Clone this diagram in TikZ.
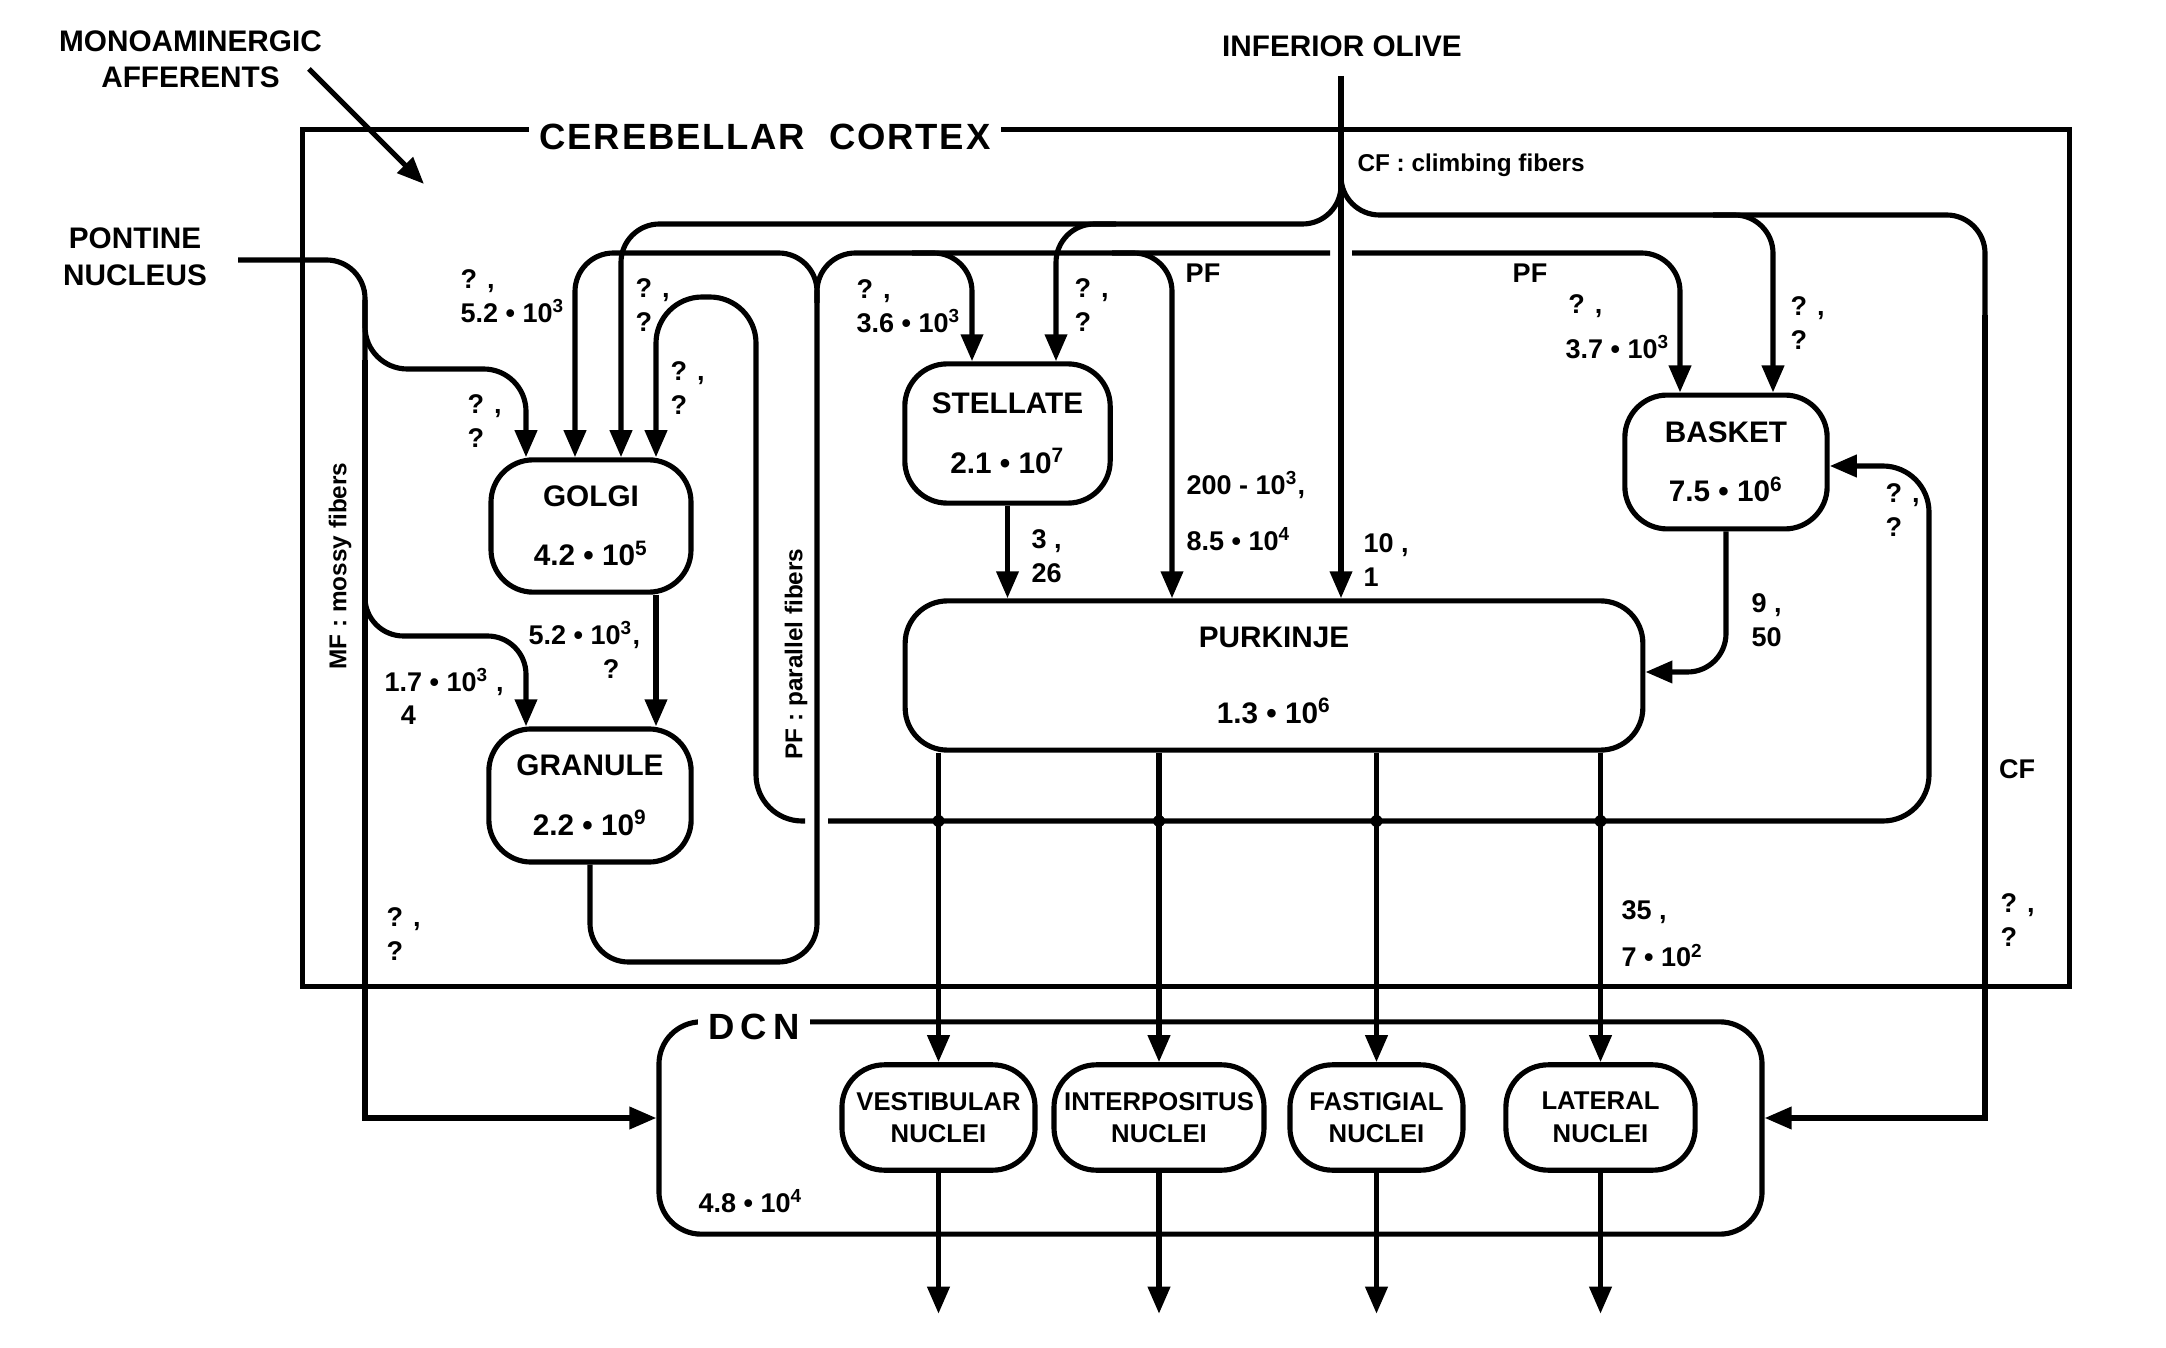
\documentclass[tikz,border=0pt]{standalone}
\usepackage{fontspec}
\setmainfont{Liberation Sans}
\newfontfamily\spaced{Liberation Sans}[LetterSpace=5]
\usepackage{tikz}
\usetikzlibrary{calc}
\usetikzlibrary{arrows.meta}
\newcommand{\tp}[1]{10\textsuperscript{#1}}

\begin{document}
\begin{tikzpicture}[x=1.3cm, y=-1.3cm,
		wire/.style={line width=1.9pt, rounded corners=0.5cm},
		arr/.style={wire, -{Triangle[length=10pt, width=8pt]}},
		cell/.style={draw, line width=1.9pt, rounded corners=0.55cm, align=center, inner sep=0pt, font=\fontsize{11}{13}\selectfont\bfseries},
		nucl/.style={cell, minimum height=1.37cm, font=\fontsize{9.5}{12}\selectfont\bfseries},
		lbl/.style={align=left, anchor=west, inner sep=0pt, font=\fontsize{10}{12.5}\selectfont\bfseries},
		small/.style={lbl, font=\fontsize{9}{11}\selectfont\bfseries},
		outer/.style={align=center, inner sep=0pt, font=\fontsize{11}{13.5}\selectfont\bfseries},
		ttl/.style={fill=white, inner xsep=4pt, inner ysep=0pt, font=\spaced\fontsize{13.5}{16}\selectfont\bfseries}
	]

	\fill[white] (0,0) rectangle (21.66,13.48);
	\useasboundingbox (0,0) rectangle (21.66,13.48);

	\node[draw, line width=1.9pt, minimum width=22.98cm, minimum height=11.13cm, inner sep=0pt] (cortex) at (11.86,5.58) {};
	\node[ttl] (ctitle) at (7.65,1.37) {CEREBELLAR\ \ CORTEX};
	\node[cell, minimum width=14.34cm, minimum height=2.76cm] (dcn) at (12.105,11.28) {};
	\node[ttl] (dcnlbl) at (7.54,10.27) {D\,C\,N};

	\node[cell, minimum width=2.60cm, minimum height=1.72cm] (golgi) at (5.91,5.26) {GOLGI\\[9pt]4.2 \textbullet{} \tp{5}};
	\node[cell, minimum width=2.63cm, minimum height=1.73cm] (granule) at (5.90,7.955) {GRANULE\\[9pt]2.2 \textbullet{} \tp{9}};
	\node[cell, minimum width=2.67cm, minimum height=1.81cm] (stellate) at (10.075,4.335) {STELLATE\\[9pt]2.1 \textbullet{} \tp{7}};
	\node[cell, minimum width=2.63cm, minimum height=1.74cm] (basket) at (17.26,4.62) {BASKET\\[9pt]7.5 \textbullet{} \tp{6}};
	\node[cell, minimum width=9.59cm, minimum height=1.94cm] (purkinje) at (12.74,6.755) {PURKINJE\\[15pt]1.3 \textbullet{} \tp{6}};

	\node[nucl, minimum width=2.51cm] (vest) at (9.385,11.175) {VESTIBULAR\\NUCLEI};
	\node[nucl, minimum width=2.73cm] (inter) at (11.59,11.175) {INTERPOSITUS\\NUCLEI};
	\node[nucl, minimum width=2.25cm] (fast) at (13.765,11.175) {FASTIGIAL\\NUCLEI};
	\node[nucl, minimum width=2.46cm] (lat) at (16.005,11.175) {LATERAL\\NUCLEI};

	\node[outer] (mono) at (1.905,0.595) {MONOAMINERGIC\\AFFERENTS};
	\node[outer] (pontine) at (1.35,2.57) {PONTINE\\NUCLEUS};
	\node[outer] (olive) at (13.42,0.46) {INFERIOR OLIVE};

	\coordinate (monoa) at (3.09,0.69);
	\coordinate (monob) at (4.24,1.84);
	\coordinate (mfin) at (2.38,2.60);
	\coordinate (mf) at (3.65,2.60);
	\coordinate (mfdcn) at (3.65,11.18);
	\coordinate (mfgo) at (5.26,3.69);
	\coordinate (mfgr) at (5.26,6.36);
	\coordinate (pfl) at (8.17,9.62);
	\coordinate (pft) at (8.17,2.53);
	\coordinate (pfgo) at (5.75,2.53);
	\coordinate (pfst) at (9.72,2.53);
	\coordinate (pfpu) at (11.72,2.53);
	\coordinate (pfba) at (16.80,2.53);
	\coordinate (cfin) at (13.41,0.76);
	\coordinate (cft) at (13.41,1.70);
	\coordinate (cfl) at (13.41,2.24);
	\coordinate (cfgo) at (6.21,2.24);
	\coordinate (cfst) at (10.56,2.24);
	\coordinate (cfr) at (13.41,2.15);
	\coordinate (cfba) at (17.73,2.15);
	\coordinate (cfdcn) at (19.85,2.15);
	\coordinate (cfdcnb) at (19.85,11.18);
	\coordinate (col) at (6.56,2.97);
	\coordinate (colr) at (7.56,2.97);
	\coordinate (colb) at (7.56,8.21);
	\coordinate (colba) at (19.29,8.21);
	\coordinate (colbt) at (19.29,4.66);
	\coordinate (bp) at (17.32,6.72);

	\draw[arr] (monoa) -- (monob);

	\draw[wire] (mfin) -- (mf) -- ($(mf)+(0,1.2)$);
	\draw[arr, sharp corners] ($(mf)+(0,1)$) -- (mfdcn) -- (mfdcn -| dcn.west);
	\draw[arr, rounded corners=0.55cm] ($(mf)+(0,0.4)$) -- (mf |- mfgo) -- (mfgo) -- (mfgo |- golgi.north);
	\draw[arr] ($(mf)+(0,3.1)$) -- (mf |- mfgr) -- (mfgr) -- (mfgr |- granule.north);

	\draw[arr] (granule.south) -- (granule.south |- pfl) -- (pfl) -- (pft) -- (pfgo) -- (pfgo |- golgi.north);
	\draw[wire] ($(pft)+(0,0.5)$) -- (pft) -- ($(pft -| cfin)+(-0.11,0)$);
	\draw[arr] ($(pft -| cfin)+(0.11,0)$) -- (pfba) -- (pfba |- basket.north);
	\draw[arr] ($(pfst)+(-0.6,0)$) -- (pfst) -- (pfst |- stellate.north);
	\draw[arr] ($(pfpu)+(-0.6,0)$) -- (pfpu) -- (pfpu |- purkinje.north);

	\draw[arr] (cfin) -- (cfin |- purkinje.north);
	\draw[arr] (cft) -- (cfl) -- (cfgo) -- (cfgo |- golgi.north);
	\draw[arr] ($(cfst)+(0.6,0)$) -- (cfst) -- (cfst |- stellate.north);
	\draw[wire] (cft) -- (cfr) -- (cfdcn) -- ($(cfdcn)+(0,1.5)$);
	\draw[arr, sharp corners] ($(cfdcn)+(0,1)$) -- (cfdcnb) -- (cfdcnb -| dcn.east);
	\draw[arr] ($(cfba)+(-0.6,0)$) -- (cfba) -- (cfba |- basket.north);

	\draw[arr] (stellate.south) -- (stellate.south |- purkinje.north);
	\draw[arr] (col |- golgi.south) -- (col |- granule.north);
	\draw[arr] (basket.south) -- (basket.south |- bp) -- (bp -| purkinje.east);

	\draw[arr, rounded corners=0.6cm] ($(colb)+(0.49,0)$) -- (colb) -- (colr) -- (col) -- (col |- golgi.north);
	\draw[arr, rounded corners=0.6cm] ($(colb)+(0.72,0)$) -- (colba) -- (colbt) -- (colbt -| basket.east);

	\foreach \n in {vest,inter,fast,lat}{
		\draw[arr] (\n.north |- purkinje.south) -- (\n.north);
		\draw[arr] (\n.south) -- ++(0,1.41);
		\fill (\n.north |- colb) circle (0.06);
	}

	\node[lbl] (l1) at (4.60,2.96) {? ,\\5.2 \textbullet{} \tp{3}};
	\node[lbl] (l2) at (6.35,3.05) {? ,\\?};
	\node[lbl] (l3) at (6.70,3.88) {? ,\\?};
	\node[lbl] (l4) at (4.67,4.21) {? ,\\?};
	\node[lbl] (l5) at (8.56,3.06) {? ,\\3.6 \textbullet{} \tp{3}};
	\node[lbl] (l6) at (10.74,3.05) {? ,\\?};
	\node[lbl, anchor=center] (pf1) at (12.03,2.73) {PF};
	\node[lbl, anchor=center] (pf2) at (15.30,2.73) {PF};
	\node[lbl] (l9) at (15.65,3.27) {\hspace*{1pt}? ,\\[4pt]3.7 \textbullet{} \tp{3}};
	\node[lbl] (l10) at (17.90,3.23) {? ,\\?};
	\node[small] (cfname) at (13.57,1.65) {CF : climbing fibers};
	\node[lbl] (l12) at (10.31,5.56) {3 ,\\26};
	\node[lbl] (l13) at (11.86,5.11) {200 - \tp{3},\\[8pt]8.5 \textbullet{} \tp{4}};
	\node[lbl] (l14) at (13.63,5.60) {10 ,\\1};
	\node[lbl] (l15) at (17.51,6.20) {9 ,\\50};
	\node[lbl] (l16) at (18.85,5.10) {? ,\\?};
	\node[lbl] (l17) at (5.28,6.50) {5.2 \textbullet{} \tp{3},\\\hspace*{2.75em}?};
	\node[lbl] (l18) at (3.84,6.965) {1.7 \textbullet{} \tp{3} ,\\\hspace*{0.6em}4};
	\node[lbl] (l19) at (3.86,9.34) {? ,\\?};
	\node[lbl] (l20) at (20.00,9.20) {? ,\\?};
	\node[lbl, anchor=center] (cf2) at (20.17,7.69) {CF};
	\node[lbl] (l22) at (16.21,9.34) {35 ,\\[5pt]7 \textbullet{} \tp{2}};
	\node[lbl] (l23) at (6.98,12.01) {4.8 \textbullet{} \tp{4}};
	\node[small, anchor=center, rotate=90] (mfname) at (3.40,5.66) {MF : mossy fibers};
	\node[small, anchor=center, rotate=90] (pfname) at (7.96,6.54) {PF : parallel fibers};

\end{tikzpicture}
\end{document}
